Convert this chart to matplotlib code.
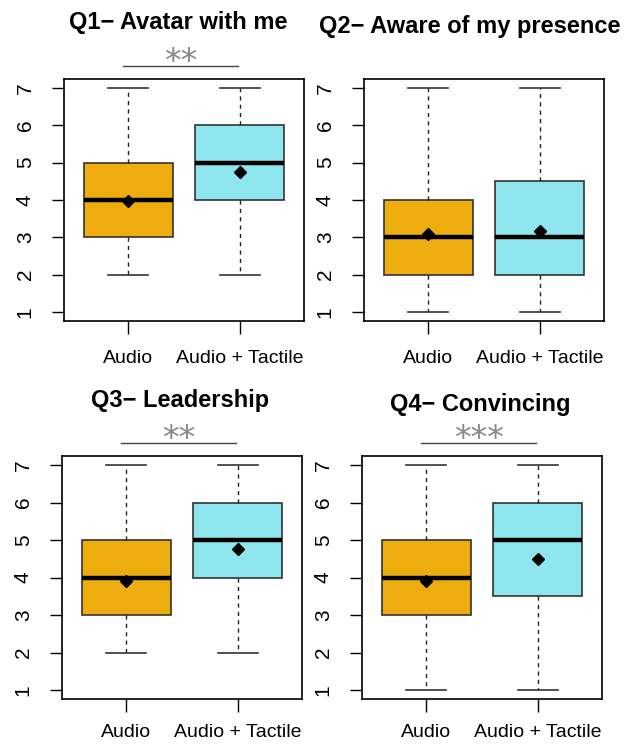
import numpy as np
import matplotlib.pyplot as plt

plt.rcParams['font.family'] = ['Liberation Sans', 'DejaVu Sans']

groups = ['Audio', 'Audio + Tactile']
titles = ['Q1\u2212 Avatar with me', 'Q2\u2212 Aware of my presence',
          'Q3\u2212 Leadership', 'Q4\u2212 Convincing']

# per question: [Audio, Audio + Tactile]
whislo = [[2, 2], [1, 1], [2, 2], [1, 1]]
q1 = [[3, 4], [2, 2], [3, 4], [3, 3.5]]
med = [[4, 5], [3, 3], [4, 5], [4, 5]]
q3 = [[5, 6], [4, 4.5], [5, 6], [5, 6]]
whishi = [[7, 7], [7, 7], [7, 7], [7, 7]]
means = [[3.96, 4.75], [3.08, 3.17], [3.9, 4.75], [3.92, 4.5]]
stars = ['**', '', '**', '***']

fills = ['#EEAD0E', '#8EE5EE']

W, H = 631, 746
fig = plt.figure(figsize=(W / 100, H / 100), dpi=100)

# axes boxes in pixels: left, right, top, bottom
boxes = [(64, 304, 79, 321), (364, 604, 79, 321),
         (62, 302, 456, 699), (362, 602, 456, 699)]
title_pos = [(178, 22), (470, 26), (180, 401), (480, 405)]
xpad = [12, 12, 9, 9]

for i in range(4):
    l, r, t, b = boxes[i]
    ax = fig.add_axes([l / W, 1 - b / H, (r - l) / W, (b - t) / H])
    stats = []
    for j in range(2):
        stats.append(dict(whislo=whislo[i][j], q1=q1[i][j], med=med[i][j],
                          q3=q3[i][j], whishi=whishi[i][j], fliers=[]))
    bp = ax.bxp(stats, positions=[1, 2], widths=0.8, patch_artist=True,
                showfliers=False,
                boxprops=dict(edgecolor='#333333', linewidth=1.2),
                medianprops=dict(color='black', linewidth=3.2),
                whiskerprops=dict(color='#222222', linewidth=1, linestyle=(0, (3, 3))),
                capprops=dict(color='#333333', linewidth=1.2),
                capwidths=0.36)
    for patch, c in zip(bp['boxes'], fills):
        patch.set_facecolor(c)
    ax.plot([1, 2], means[i], linestyle='none', marker='D', color='black', ms=6)

    ax.set_xlim(0.42, 2.58)
    ax.set_ylim(0.76, 7.24)
    ax.set_yticks(range(1, 8))
    ax.set_yticklabels([str(v) for v in range(1, 8)], rotation=90, va='center')
    ax.set_xticks([1, 2])
    ax.set_xticklabels(groups)
    ax.tick_params(axis='y', length=9, width=1, labelsize=15, pad=12)
    ax.tick_params(axis='x', length=9, width=1, labelsize=14, pad=xpad[i])
    for s in ax.spines.values():
        s.set_linewidth(1.2)

    if stars[i]:
        ax.plot([0.95, 1.99], [7.59, 7.59], color='#444444', lw=1, clip_on=False)
        ax.text(1.47, 7.67, stars[i], ha='center', va='center', fontsize=24,
                color='#888888', family='DejaVu Sans', clip_on=False)

    tx, ty = title_pos[i]
    fig.text(tx / W, 1 - ty / H, titles[i], ha='center', va='center',
             fontsize=17, fontweight='bold')

fig.savefig('out.png', dpi=100)
